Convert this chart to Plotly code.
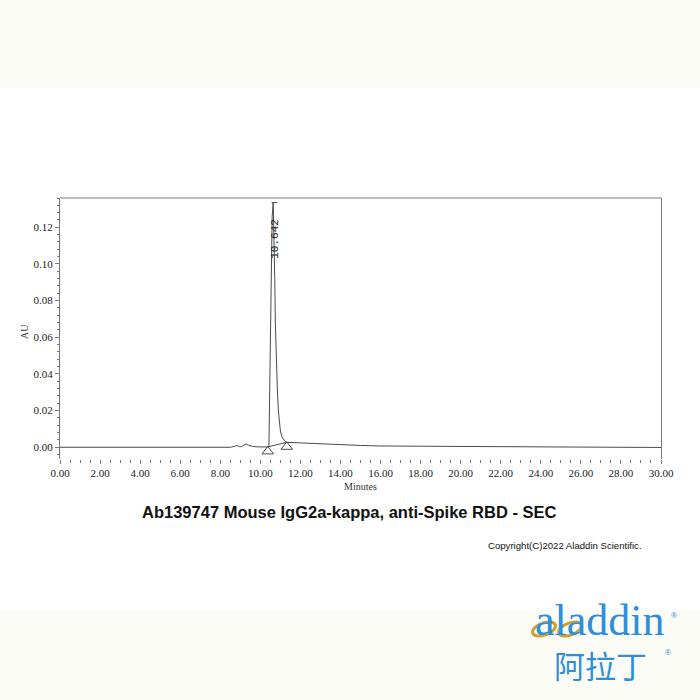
import numpy as np
import plotly.graph_objects as go

# ---- data ----
time_min = [0, 1, 2, 3, 4, 5, 6, 7, 8, 8.5, 8.7, 8.82, 8.95, 9.05, 9.15, 9.29, 9.4, 9.6, 9.9,
            10.2, 10.37, 10.43, 10.47, 10.51, 10.55, 10.59, 10.642, 10.68, 10.72, 10.75, 10.80,
            10.85, 10.90, 10.95, 11.0, 11.07, 11.15, 11.23, 11.32, 11.5, 12, 13, 14, 15, 16,
            18, 20, 22, 24, 26, 28, 30]
absorbance = [0.0000, 0.0000, 0.0000, -0.0001, -0.0001, -0.0002, -0.0003, -0.0001, -0.0001,
              0.0000, 0.0005, 0.0010, 0.0004, 0.0003, 0.0010, 0.0018, 0.0012, 0.0005, 0.0002,
              0.0002, 0.0002, 0.0010, 0.030, 0.068, 0.103, 0.126, 0.1335, 0.118, 0.092, 0.0676,
              0.045, 0.0313, 0.020, 0.0131, 0.0090, 0.0058, 0.0042, 0.0032, 0.0027, 0.0026,
              0.0023, 0.0018, 0.0013, 0.0010, 0.0007, 0.0005, 0.0004, 0.0003, 0.0002, 0.0001,
              0.0000, -0.0001]
peak_rt = [10.642]
peak_labels = ["10.642"]
peak_start = [10.37]
peak_end = [11.32]

x_ticks = [0, 2, 4, 6, 8, 10, 12, 14, 16, 18, 20, 22, 24, 26, 28, 30]
y_ticks = [0.00, 0.02, 0.04, 0.06, 0.08, 0.10, 0.12]

title_text = "Ab139747 Mouse IgG2a-kappa, anti-Spike RBD - SEC"
copyright_text = "Copyright(C)2022 Aladdin Scientific."

# ---- geometry ----
W, H = 700, 700
L, R, T, B = 60, 661, 198, 459
YMIN, YMAX = -0.0064, 0.136
XMIN, XMAX = 0, 30
px_per_y = (B - T) / (YMAX - YMIN)


def px(xp):
    return (xp - L) / (R - L)


def py(yp):
    return (B - yp) / (B - T)


line_col = "#4a4a4a"
axis_col = "#7a7a7a"
serif = "Liberation Serif, DejaVu Serif, serif"

fig = go.Figure()
fig.add_trace(go.Scatter(x=time_min, y=absorbance, mode="lines",
                         line=dict(color=line_col, width=1), hoverinfo="skip"))

# integration baseline + markers
ys = float(np.interp(peak_start[0], time_min, absorbance))
ye = float(np.interp(peak_end[0], time_min, absorbance))
fig.add_trace(go.Scatter(x=[peak_start[0], peak_end[0]], y=[ys, ye], mode="lines",
                         line=dict(color=line_col, width=1), hoverinfo="skip"))
off = 4.5 / px_per_y
fig.add_trace(go.Scatter(x=[peak_start[0], peak_end[0]], y=[ys - off, ye - off], mode="markers",
                         marker=dict(symbol="triangle-up-open", size=10,
                                     line=dict(color=line_col, width=1), color=line_col),
                         hoverinfo="skip"))

apex = float(np.interp(peak_rt[0], time_min, absorbance))
anns = []
anns.append(dict(x=peak_rt[0], y=apex - 36 / px_per_y, xref="x", yref="y",
                 xanchor="center", yanchor="middle",
                 text=peak_labels[0], textangle=-90, showarrow=False, xshift=1,
                 font=dict(family="Liberation Mono, monospace", size=11, color="#222")))

shapes = []
# apex dash
shapes.append(dict(type="line", xref="x", yref="y", x0=peak_rt[0] - 0.08, x1=peak_rt[0] + 0.2,
                   y0=apex, y1=apex, line=dict(color=line_col, width=1)))
# top border
shapes.append(dict(type="line", xref="paper", yref="paper", x0=0, x1=1, y0=1, y1=1,
                   line=dict(color=axis_col, width=1)))
# background bands
band = "#fcfcf6"
shapes.append(dict(type="rect", xref="paper", yref="paper", x0=px(0), x1=px(W), y0=py(0), y1=py(88),
                   fillcolor=band, line=dict(width=0), layer="below"))
shapes.append(dict(type="rect", xref="paper", yref="paper", x0=px(0), x1=px(W), y0=py(610), y1=py(H),
                   fillcolor=band, line=dict(width=0), layer="below"))

# gold rings on logo
gold = "#c8a22a"
for cx, cy, rx, ry in [(544, 629, 12, 6), (570, 629, 12, 6)]:
    th = np.linspace(0, 2 * np.pi, 40)
    ang = -0.35
    xs = cx + rx * np.cos(th) * np.cos(ang) - ry * np.sin(th) * np.sin(ang)
    yv = cy + rx * np.cos(th) * np.sin(ang) + ry * np.sin(th) * np.cos(ang)
    path = "M " + " L ".join(f"{px(a):.5f},{py(b):.5f}" for a, b in zip(xs, yv)) + " Z"
    shapes.append(dict(type="path", xref="paper", yref="paper", path=path,
                       line=dict(color=gold, width=3)))


def note(xp, yp, text, size, family, color="#111", **kw):
    d = dict(x=px(xp), y=py(yp), xref="paper", yref="paper", text=text, showarrow=False,
             xanchor="center", yanchor="middle", font=dict(family=family, size=size, color=color))
    d.update(kw)
    return d


sans = "Liberation Sans, Arial, sans-serif"
blue = "#2f8edb"
anns += [
    note(349, 512, f"<b>{title_text}</b>", 16.5, sans),
    note(644, 545, copyright_text, 9.6, sans, xanchor="right"),
    note(360, 486, "Minutes", 10, serif, "#333"),
    note(24, 332, "AU", 10, serif, "#333", textangle=-90),
    note(600, 620, "aladdin", 44, serif, blue),
    note(674, 615, "®", 8, sans, blue),
    note(600, 664, "阿拉丁", 31, "Noto Sans CJK SC", blue),
    note(668, 652, "®", 8, sans, blue),
]

fig.update_layout(
    width=W, height=H, autosize=False,
    margin=dict(l=L, r=W - R, t=T, b=H - B, pad=0),
    paper_bgcolor="white", plot_bgcolor="white",
    showlegend=False,
    shapes=shapes, annotations=anns,
)
fig.update_xaxes(range=[XMIN, XMAX], tickvals=x_ticks, tickformat=".2f",
                 showline=False, showgrid=False, zeroline=False,
                 ticks="outside", ticklen=4, tickcolor=axis_col,
                 minor=dict(dtick=0.5, tick0=0, ticks="outside", ticklen=2.5, tickcolor=axis_col),
                 tickfont=dict(family=serif, size=11, color="#222"))
fig.update_yaxes(range=[YMIN, YMAX], tickvals=y_ticks, tickformat=".2f",
                 showline=True, linecolor=axis_col, linewidth=1, mirror=True,
                 showgrid=False, zeroline=False,
                 ticks="outside", ticklen=4, tickcolor=axis_col,
                 minor=dict(dtick=0.004, tick0=0, ticks="outside", ticklen=2.5, tickcolor=axis_col),
                 tickfont=dict(family=serif, size=11, color="#222"))

fig.write_html("out.html", config={"displayModeBar": False},
               post_script="document.body.style.margin='0';document.body.style.padding='0';")
